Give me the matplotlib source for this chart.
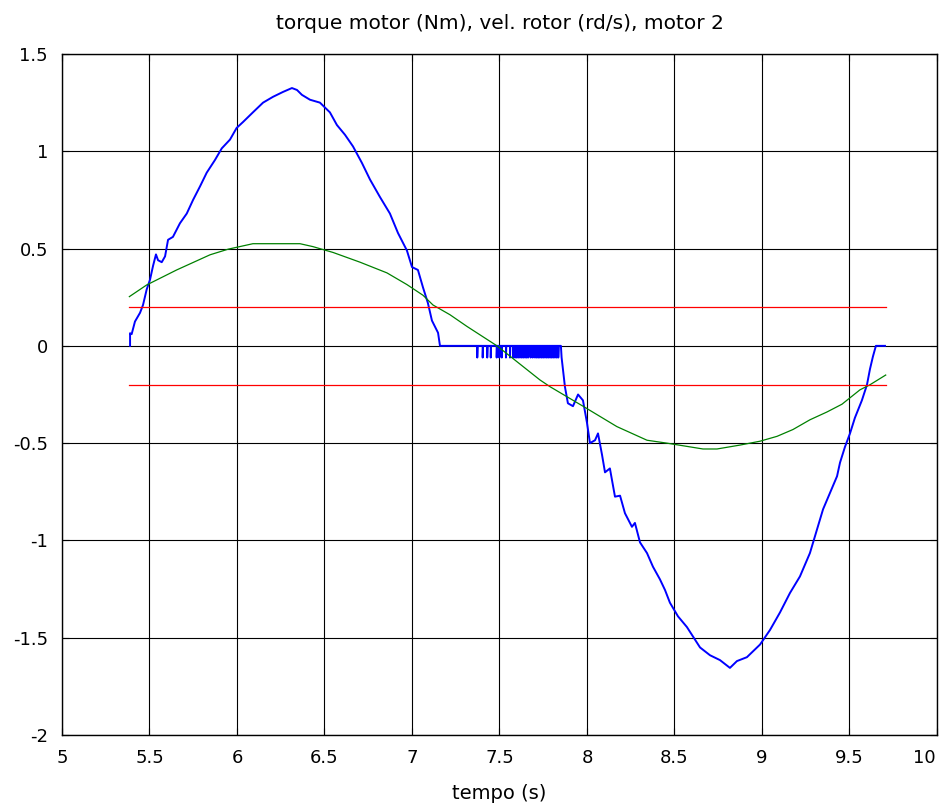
import numpy as np
import matplotlib
matplotlib.use("Agg")
import matplotlib.pyplot as plt
from matplotlib.transforms import ScaledTranslation

plt.rcParams['font.family'] = ['DejaVu Sans']

# ---- data ----
# torque (blue), rising part
torque_x1 = [5.389, 5.389, 5.398, 5.417, 5.446, 5.463, 5.484, 5.503, 5.520, 5.537, 5.549, 5.570, 5.589,
             5.606, 5.634, 5.674, 5.713, 5.749, 5.789, 5.827, 5.874, 5.913, 5.960, 5.998, 6.034,
             6.091, 6.149, 6.206, 6.263, 6.314, 6.343, 6.371, 6.417, 6.474, 6.531, 6.571, 6.617,
             6.663, 6.714, 6.760, 6.817, 6.874, 6.920, 6.971, 7.000, 7.034, 7.063, 7.091, 7.114,
             7.131, 7.149, 7.160]
torque_y1 = [0.0, 0.065, 0.06, 0.125, 0.17, 0.21, 0.29, 0.34, 0.41, 0.47, 0.44, 0.43, 0.46,
             0.545, 0.56, 0.63, 0.68, 0.75, 0.82, 0.89, 0.955, 1.015, 1.06, 1.12, 1.15,
             1.20, 1.25, 1.28, 1.305, 1.325, 1.315, 1.29, 1.265, 1.25, 1.20, 1.135, 1.085,
             1.025, 0.94, 0.855, 0.765, 0.68, 0.58, 0.49, 0.405, 0.39, 0.30, 0.22, 0.13,
             0.10, 0.067, 0.0]
# torque spikes while motor is stopped
spike_x = [7.373, 7.404, 7.430, 7.450, 7.484, 7.499, 7.513, 7.537, 7.560, 7.579, 7.589, 7.598,
           7.607, 7.617, 7.627, 7.636, 7.646, 7.655, 7.664, 7.678, 7.690, 7.703, 7.713, 7.722,
           7.731, 7.741, 7.750, 7.760, 7.770, 7.779, 7.789, 7.798, 7.807, 7.817, 7.827, 7.836]
spike_depth = -0.06
# torque, falling / negative part
torque_x2 = [7.855, 7.863, 7.874, 7.891, 7.920, 7.949, 7.977, 8.000, 8.017, 8.046, 8.063, 8.086,
             8.103, 8.131, 8.160, 8.189, 8.217, 8.257, 8.274, 8.303, 8.343, 8.377, 8.417, 8.446,
             8.474, 8.520, 8.571, 8.617, 8.646, 8.703, 8.760, 8.817, 8.857, 8.914, 8.949, 8.989,
             9.046, 9.103, 9.160, 9.217, 9.274, 9.314, 9.349, 9.389, 9.429, 9.446, 9.474, 9.503,
             9.531, 9.549, 9.571, 9.600, 9.617, 9.634, 9.651, 9.669, 9.703]
torque_y2 = [-0.06, -0.125, -0.21, -0.295, -0.31, -0.25, -0.28, -0.395, -0.50, -0.485, -0.45, -0.56,
             -0.65, -0.63, -0.775, -0.77, -0.86, -0.93, -0.91, -1.01, -1.065, -1.135, -1.20, -1.255,
             -1.32, -1.39, -1.445, -1.51, -1.55, -1.59, -1.615, -1.655, -1.62, -1.60, -1.57, -1.535,
             -1.46, -1.37, -1.27, -1.185, -1.065, -0.945, -0.84, -0.755, -0.67, -0.60, -0.52, -0.45,
             -0.37, -0.33, -0.28, -0.20, -0.12, -0.055, 0.0, 0.0, 0.0]

# rotor speed (green)
speed_x = [5.385, 5.484, 5.655, 5.846, 5.950, 6.091, 6.360, 6.434, 6.549, 6.703, 6.857, 6.971,
           7.063, 7.120, 7.217, 7.314, 7.486, 7.731, 7.789, 7.977, 8.171, 8.343, 8.457, 8.663,
           8.743, 8.874, 8.989, 9.086, 9.177, 9.274, 9.371, 9.457, 9.560, 9.617, 9.707]
speed_y = [0.253, 0.313, 0.39, 0.468, 0.497, 0.525, 0.525, 0.51, 0.48, 0.43, 0.375, 0.315,
           0.26, 0.21, 0.16, 0.10, 0.0, -0.175, -0.21, -0.31, -0.415, -0.485, -0.50, -0.53,
           -0.53, -0.51, -0.49, -0.465, -0.43, -0.38, -0.34, -0.30, -0.226, -0.20, -0.15]

# limits (red)
limit_x = [5.385, 9.707]
limit_levels = [0.2, -0.2]

x_ticks = [5, 5.5, 6, 6.5, 7, 7.5, 8, 8.5, 9, 9.5, 10]
y_ticks = [-2, -1.5, -1, -0.5, 0, 0.5, 1, 1.5]

# ---- build torque series ----
tx = list(torque_x1) + [spike_x[0] - 0.01]
ty = list(torque_y1) + [0.0]
for s in spike_x:
    tx += [s, s, s + 0.002]
    ty += [0.0, spike_depth, 0.0]
tx += [torque_x2[0] - 0.004] + list(torque_x2)
ty += [0.0] + list(torque_y2)

# ---- plot ----
fig = plt.figure(figsize=(9.45, 8.07), dpi=100)
ax = fig.add_axes([0.0656, 0.0892, 0.9259, 0.8439])

ax.plot(tx, ty, color=(0, 0, 1), lw=1.4, zorder=3)
ax.plot(speed_x, speed_y, color=(0, 0.5, 0), lw=0.9, zorder=3)
for lv in limit_levels:
    ax.plot(limit_x, [lv, lv], color=(1, 0, 0), lw=0.9, zorder=3)

ax.set_xlim(5, 10)
ax.set_ylim(-2, 1.5)
ax.set_xticks(x_ticks)
ax.set_xticklabels([f"{v:g}" for v in x_ticks])
ax.set_yticks(y_ticks)
ax.set_yticklabels([f"{v:g}" for v in y_ticks])
ax.grid(True, color='black', lw=0.8)
ax.set_axisbelow(True)
ax.tick_params(direction='in', top=True, right=True, length=5, width=0.8,
               labelsize=13, pad=10)
for sp in ax.spines.values():
    sp.set_linewidth(1.0)
    sp.set_color('black')

last = ax.get_xticklabels()[-1]
last.set_transform(last.get_transform() + ScaledTranslation(-9 / 72, 0, fig.dpi_scale_trans))

ax.set_title("torque motor (Nm), vel. rotor (rd/s), motor 2", fontsize=14.5, pad=18)
ax.set_xlabel("tempo (s)", fontsize=14, labelpad=12)

fig.savefig("out.png", dpi=100)
